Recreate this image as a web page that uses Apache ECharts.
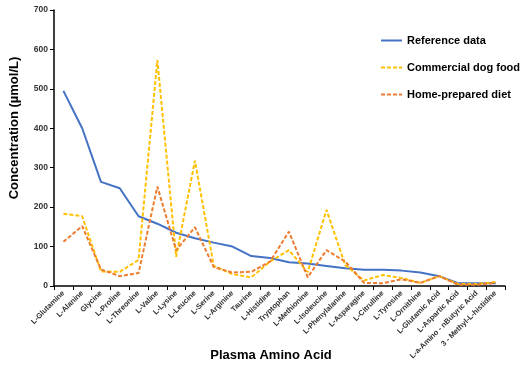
<!DOCTYPE html>
<html>
<head>
<meta charset="utf-8">
<script src="https://cdn.jsdelivr.net/npm/echarts@6/dist/echarts.min.js"></script>
<style>
  html, body { margin: 0; padding: 0; background: #fff; }
  #chart { width: 525px; height: 366px; }
</style>
</head>
<body>
<div id="chart"></div>
<script>
// plasma amino acids
const aminoAcids = [
  "L-Glutamine", "L-Alanine", "Glycine", "L-Proline", "L-Threonine", "L-Valine",
  "L-Lysine", "L-Leucine", "L-Serine", "L-Arginine", "Taurine", "L-Histidine",
  "Tryptophan", "L-Methionine", "L-Isoleucine", "L-Phenylalanine", "L-Asparagine",
  "L-Citrulline", "L-Tyrosine", "L-Ornithine", "L-Glutamic Acid", "L-Aspartic Acid",
  "L-a-Amino - nButyric Acid", "3 - Methyl-L-histidine"
];

const referenceData = [495, 400, 264, 248, 177, 158, 135, 121, 110, 100, 76, 71,
  60, 57, 51, 45, 41, 41, 39, 34, 25, 7, 7, 7];
const commercialFood = [183, 177, 37, 36, 66, 573, 74, 318, 51, 30, 22, 62,
  91, 35, 193, 53, 14, 28, 20, 8, 25, 5, 5, 10];
const homeDiet = [112, 152, 42, 25, 33, 252, 91, 149, 48, 34, 36, 62,
  138, 22, 91, 62, 8, 7, 17, 8, 25, 3, 3, 8];

const FONT = "Liberation Sans";
const titleStyle = { fontFamily: FONT, fontWeight: "bold", fontSize: 13, fill: "#000",
  align: "center", verticalAlign: "middle" };

const chart = echarts.init(document.getElementById("chart"), null, { renderer: "canvas" });

chart.setOption({
  animation: false,
  textStyle: { fontFamily: FONT },
  grid: { left: 54, right: 20, top: 10, bottom: 80, outerBoundsMode: "none" },
  legend: {
    orient: "vertical",
    left: 380,
    top: 35,
    padding: 0,
    itemGap: 16,
    itemWidth: 21,
    itemHeight: 10,
    itemStyle: { opacity: 0 },
    textStyle: { fontFamily: FONT, fontWeight: "bold", fontSize: 11, color: "#000" },
    data: ["Reference data", "Commercial dog food", "Home-prepared diet"]
  },
  graphic: [
    {
      type: "text",
      style: Object.assign({ text: "Concentration (µmol/L)" }, titleStyle),
      rotation: Math.PI / 2,
      x: 14,
      y: 128
    },
    {
      type: "text",
      style: Object.assign({ text: "Plasma Amino Acid" }, titleStyle),
      x: 271,
      y: 355
    }
  ],
  xAxis: {
    type: "category",
    data: aminoAcids,
    boundaryGap: true,
    axisLine: { lineStyle: { color: "#000", width: 1.5 } },
    axisTick: { show: true, alignWithLabel: false, length: 4, lineStyle: { color: "#000" } },
    axisLabel: {
      interval: 0,
      rotate: 45,
      fontSize: 7.5,
      fontWeight: "bold",
      color: "#333",
      margin: 6
    }
  },
  yAxis: {
    type: "value",
    min: 0,
    max: 700,
    interval: 100,
    axisLine: { show: true, lineStyle: { color: "#000", width: 1.5 } },
    axisTick: { show: true, length: 4, lineStyle: { color: "#000" } },
    axisLabel: { fontSize: 8.5, fontWeight: "bold", color: "#333", margin: 6 },
    splitLine: { show: false }
  },
  series: [
    {
      name: "Reference data",
      type: "line",
      data: referenceData,
      symbol: "none",
      lineStyle: { color: "#4472c4", width: 2 },
      itemStyle: { color: "#4472c4" }
    },
    {
      name: "Commercial dog food",
      type: "line",
      data: commercialFood,
      symbol: "none",
      lineStyle: { color: "#ffc000", width: 2, type: [4, 2] },
      itemStyle: { color: "#ffc000" }
    },
    {
      name: "Home-prepared diet",
      type: "line",
      data: homeDiet,
      symbol: "none",
      lineStyle: { color: "#ed7d31", width: 2, type: [4, 2] },
      itemStyle: { color: "#ed7d31" }
    }
  ]
});
</script>
</body>
</html>
